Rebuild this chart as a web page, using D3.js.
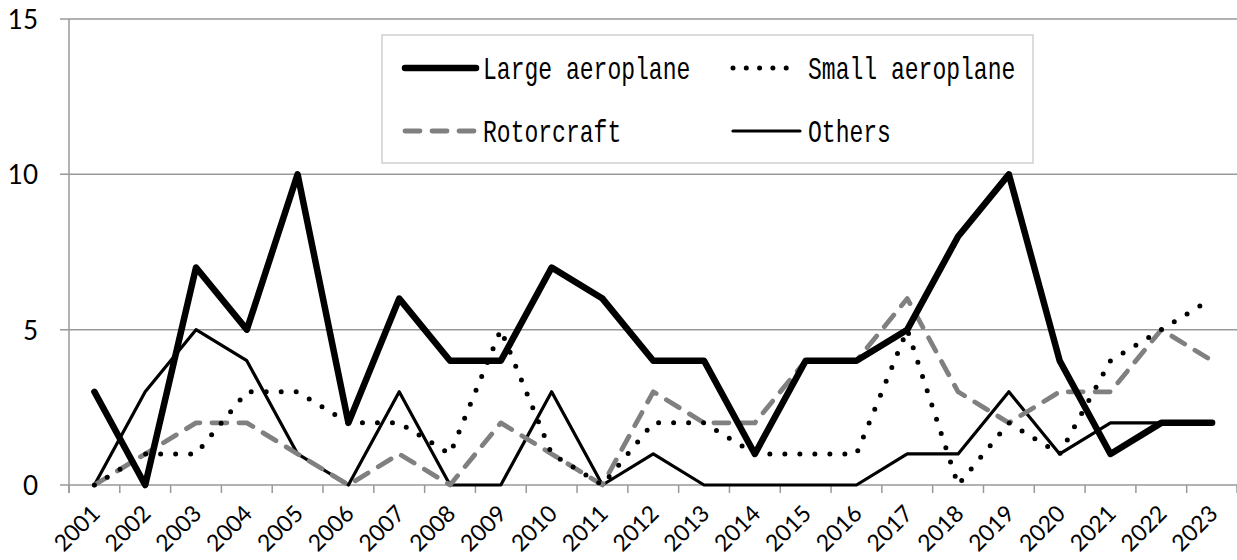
<!DOCTYPE html>
<html>
<head>
<meta charset="utf-8">
<script src="https://cdn.jsdelivr.net/npm/d3@7"></script>
<style>
  html, body { margin: 0; padding: 0; background: #fff; }
  svg { display: block; }
</style>
</head>
<body>
<svg id="chart" width="1237" height="560"></svg>
<script>
// ---- data ----
const years = ["2001","2002","2003","2004","2005","2006","2007","2008","2009","2010","2011","2012",
               "2013","2014","2015","2016","2017","2018","2019","2020","2021","2022","2023"];
const largeAeroplane = [3,0,7,5,10,2,6,4,4,7,6,4,4,1,4,4,5,8,10,4,1,2,2];
const smallAeroplane = [0,1,1,3,3,2,2,1,5,1,0,2,2,1,1,1,5,0,2,1,4,5,6];
const rotorcraft     = [0,1,2,2,1,0,1,0,2,1,0,3,2,2,4,4,6,3,2,3,3,5,4];
const others         = [0,3,5,4,1,0,3,0,0,3,0,1,0,0,0,0,1,1,3,1,2,2,2];
const yTicks = [0, 5, 10, 15];

// drawing order: back to front
const series = [
  {name: "Others",          values: others,         color: "#000",    width: 3.2, dash: null,    legendDash: null},
  {name: "Rotorcraft",      values: rotorcraft,     color: "#808080", width: 4.8, dash: "15 12", legendDash: "15 12"},
  {name: "Small aeroplane", values: smallAeroplane, color: "#000",    width: 5,   dash: "0 15",  legendDash: "0 13.3"},
  {name: "Large aeroplane", values: largeAeroplane, color: "#000",    width: 6.5, dash: null,    legendDash: null}
];

const svg = d3.select("#chart");
const plotLeft = 69, plotRight = 1237.5, plotTop = 19, plotBottom = 485;

const x = d3.scaleBand().domain(years).range([plotLeft, plotRight]).padding(0);
const y = d3.scaleLinear().domain([0, 15]).range([plotBottom, plotTop]);
const cx = d => x(d) + x.bandwidth() / 2;

// gridlines
svg.append("g")
  .selectAll("line")
  .data(yTicks)
  .join("line")
    .attr("x1", plotLeft - 9).attr("x2", 1237)
    .attr("y1", d => y(d)).attr("y2", d => y(d))
    .attr("stroke", "#999").attr("stroke-width", 1.5);

// y axis line
svg.append("line")
  .attr("x1", plotLeft).attr("x2", plotLeft)
  .attr("y1", y(15)).attr("y2", plotBottom + 8)
  .attr("stroke", "#999").attr("stroke-width", 1.5);

// y labels
const yAxis = svg.append("g")
  .attr("transform", `translate(${plotLeft - 31},0)`)
  .call(d3.axisLeft(y).tickValues(yTicks).tickSize(0).tickPadding(0).tickFormat(d3.format("d")));
yAxis.select(".domain").remove();
yAxis.selectAll("text")
  .attr("font-family", "Lato, 'Open Sans', sans-serif")
  .attr("font-size", 26).attr("fill", "#000")
  .attr("dy", "0.36em");

// x tick marks at band boundaries
svg.append("g")
  .selectAll("line")
  .data(years.concat(["end"]))
  .join("line")
    .attr("x1", d => d === "end" ? plotRight - 0.5 : x(d))
    .attr("x2", d => d === "end" ? plotRight - 0.5 : x(d))
    .attr("y1", plotBottom).attr("y2", plotBottom + 8)
    .attr("stroke", "#999").attr("stroke-width", 1.5);

// x labels rotated
svg.append("g")
  .selectAll("text")
  .data(years)
  .join("text")
    .attr("transform", d => `translate(${cx(d) + 7},${plotBottom + 30}) rotate(-45)`)
    .attr("text-anchor", "end")
    .attr("font-family", "Lato, 'Open Sans', sans-serif")
    .attr("font-size", 23).attr("fill", "#000")
    .text(d => d);

// lines
const line = d3.line().x((v, i) => cx(years[i])).y(v => y(v));
svg.append("g")
  .selectAll("path")
  .data(series)
  .join("path")
    .attr("d", s => line(s.values))
    .attr("fill", "none")
    .attr("stroke", s => s.color)
    .attr("stroke-width", s => s.width)
    .attr("stroke-dasharray", s => s.dash)
    .attr("stroke-linecap", "round")
    .attr("stroke-linejoin", "round");

// legend
const legend = svg.append("g");
legend.append("rect")
  .attr("x", 382).attr("y", 35).attr("width", 651).attr("height", 128)
  .attr("fill", "#fff").attr("stroke", "#d0d0d0").attr("stroke-width", 1.5);

const legendItems = [
  {s: series[3], x1: 405, x2: 476, tx: 483, y: 68},
  {s: series[2], x1: 733, x2: 792, tx: 808, y: 68},
  {s: series[1], x1: 405, x2: 476, tx: 483, y: 131},
  {s: series[0], x1: 733, x2: 800, tx: 808, y: 131}
];
const li = legend.selectAll("g.item").data(legendItems).join("g").attr("class", "item");
li.append("line")
  .attr("x1", d => d.x1).attr("x2", d => d.x2)
  .attr("y1", d => d.y).attr("y2", d => d.y)
  .attr("stroke", d => d.s.color)
  .attr("stroke-width", d => d.s.width)
  .attr("stroke-dasharray", d => d.s.legendDash)
  .attr("stroke-linecap", "round");
li.append("text")
  .attr("transform", d => `translate(${d.tx},${d.y + 11}) scale(0.72,1)`)
  .attr("font-family", "'Liberation Mono', 'DejaVu Sans Mono', monospace")
  .attr("font-size", 32).attr("fill", "#000")
  .text(d => d.s.name);
</script>
</body>
</html>
